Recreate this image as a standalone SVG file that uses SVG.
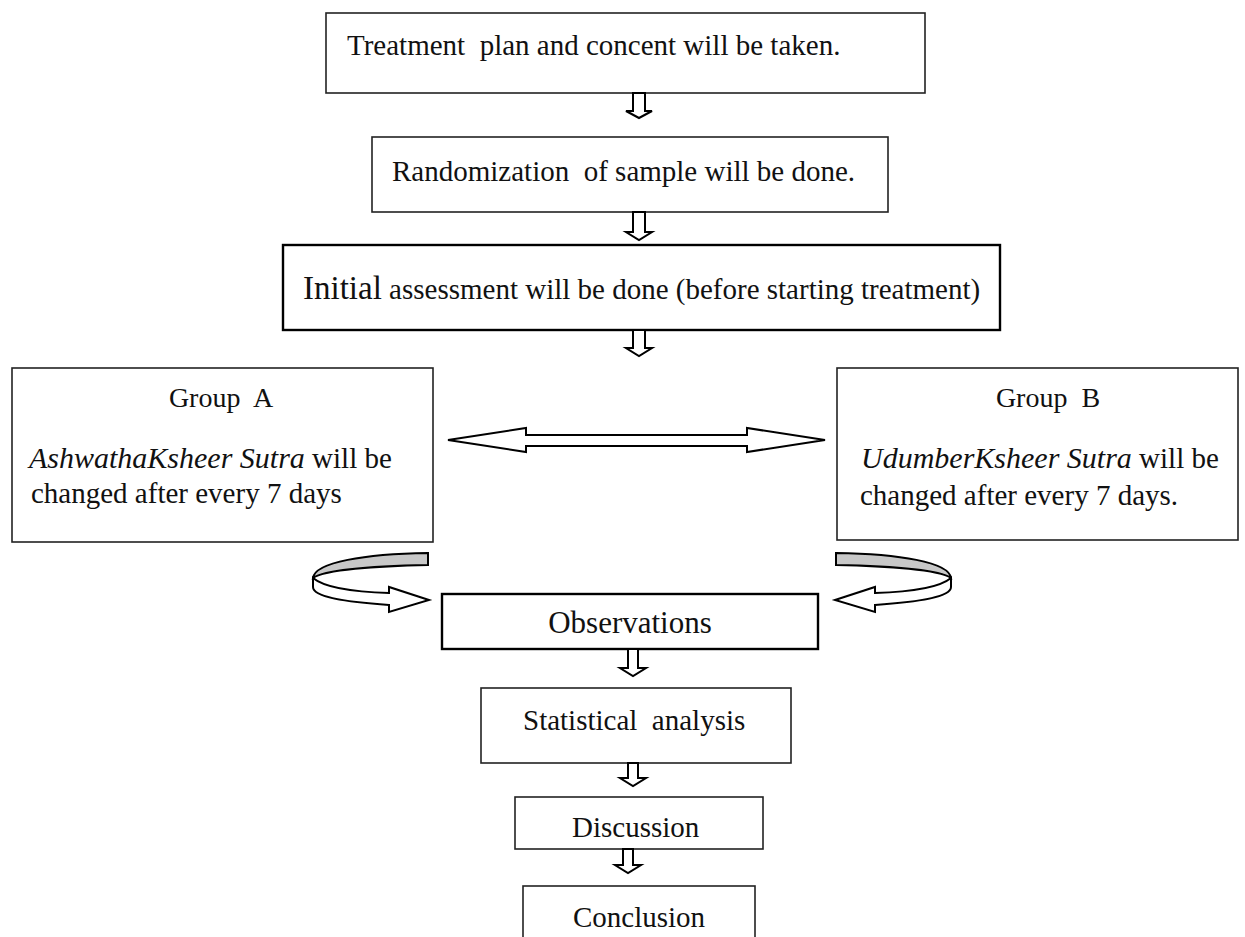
<svg xmlns="http://www.w3.org/2000/svg" width="1245" height="937" viewBox="0 0 1245 937">
<style>
.box{fill:#fff;stroke:#222;stroke-width:1.6}
.thick{fill:#fff;stroke:#000;stroke-width:2.4}
.t{font-family:"Liberation Serif","Times New Roman",serif;fill:#111;white-space:pre}
.it{font-style:italic}
.arr{fill:#fff;stroke:#000;stroke-width:2;stroke-linejoin:miter}
.gray{fill:#c8c8c8;stroke:#000;stroke-width:2}
</style>
<rect width="1245" height="937" fill="#fff"/>
<g id="n1"><rect class="box" x="326" y="13" width="599" height="80"/><text class="t" x="347" y="55" font-size="29" xml:space="preserve">Treatment  plan and concent will be taken.</text></g>
<g id="n2"><rect class="box" x="372" y="137" width="516" height="75"/><text class="t" x="392" y="181" font-size="29" xml:space="preserve">Randomization  of sample will be done.</text></g>
<g id="n3"><rect class="thick" x="283" y="245" width="717" height="85"/><text class="t" x="303" y="299" font-size="29"><tspan font-size="33">Initial</tspan> assessment will be done (before starting treatment)</text></g>
<g id="nA"><rect class="box" x="12" y="368" width="421" height="174"/><text class="t" x="221" y="407" text-anchor="middle" font-size="28" xml:space="preserve">Group  A</text><text class="t" x="29" y="468" font-size="29"><tspan class="it" font-size="30">AshwathaKsheer Sutra</tspan> will be</text><text class="t" x="31" y="503" font-size="29">changed after every 7 days</text></g>
<g id="nB"><rect class="box" x="837" y="368" width="401" height="172"/><text class="t" x="1048" y="407" text-anchor="middle" font-size="28" xml:space="preserve">Group  B</text><text class="t" x="861" y="468" font-size="29"><tspan class="it" font-size="30">UdumberKsheer Sutra</tspan> will be</text><text class="t" x="860" y="505" font-size="29">changed after every 7 days.</text></g>
<g id="nObs"><rect class="thick" x="442" y="594" width="376" height="55"/><text class="t" x="630" y="633" text-anchor="middle" font-size="31">Observations</text></g>
<g id="nStat"><rect class="box" x="481" y="688" width="310" height="75"/><text class="t" x="523" y="730" font-size="29" xml:space="preserve">Statistical  analysis</text></g>
<g id="nDisc"><rect class="box" x="515" y="797" width="248" height="52"/><text class="t" x="572" y="837" font-size="29">Discussion</text></g>
<g id="nConc"><rect class="box" x="523" y="886" width="232" height="70"/><text class="t" x="573" y="927" font-size="29">Conclusion</text></g>
<g id="connectors">
<polygon class="arr" points="633,93 645,93 645,111 652,111 639,118 626,111 633,111"/>
<polygon class="arr" points="633,212 645,212 645,232 652,232 639,240 626,232 633,232"/>
<polygon class="arr" points="633,330 645,330 645,348 652,348 639,356 626,348 633,348"/>
<polygon class="arr" points="628,649 638,649 638,668 646,668 633,676 620,668 628,668"/>
<polygon class="arr" points="628,763 638,763 638,778 646,778 633,786 620,778 628,778"/>
<polygon class="arr" points="623,849 633,849 633,865 641,865 628,873 615,865 623,865"/>
<polygon class="arr" points="448,440 526,428 526,435 747,435 747,428 825,440 747,452 747,446 526,446 526,452"/>
<g id="curveL">
<path class="gray" d="M428,553 L428,565 C375,566 325,570 313,578 C315,562 365,554 428,553 Z"/>
<path class="arr" d="M313,578 C325,588 355,592 389,593 L389,587 L429,600 L389,612 L389,605 C345,602 313,597 313,587 Z"/>
</g>
<g id="curveR" transform="translate(1264,0) scale(-1,1)">
<path class="gray" d="M428,553 L428,565 C375,566 325,570 313,578 C315,562 365,554 428,553 Z"/>
<path class="arr" d="M313,578 C325,588 355,592 389,593 L389,587 L429,600 L389,612 L389,605 C345,602 313,597 313,587 Z"/>
</g>
</g>
</svg>
